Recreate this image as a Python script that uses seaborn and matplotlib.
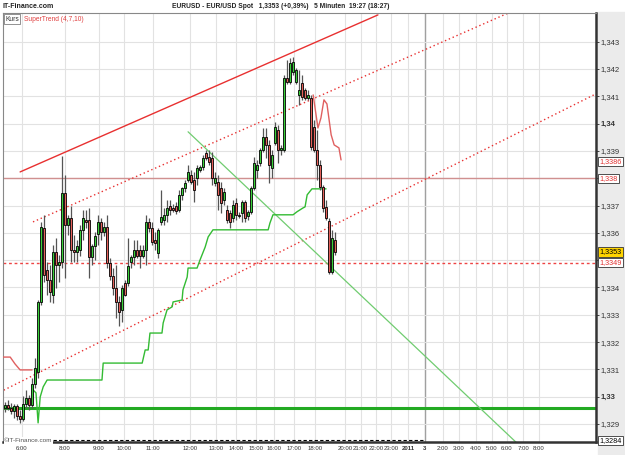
import numpy as np
import pandas as pd
import seaborn as sns
import matplotlib.pyplot as plt
import matplotlib.patches as mpatches

sns.set_style('white')
plt.rcParams['font.family'] = ['Liberation Sans', 'DejaVu Sans']

# 5-minute EUR/USD candles, one per slot
opens = [1.32959, 1.32970, 1.32959, 1.32948, 1.32966, 1.32929, 1.32918, 1.32973, 1.32995, 1.32970,
         1.33047, 1.33090, 1.33347, 1.33618, 1.33464, 1.33427, 1.33373, 1.33530, 1.33482, 1.33493,
         1.33746, 1.33629, 1.33655, 1.33537, 1.33530, 1.33537, 1.33611, 1.33647, 1.33647, 1.33512,
         1.33552, 1.33596, 1.33640, 1.33603, 1.33622, 1.33490, 1.33442, 1.33398, 1.33347, 1.33318,
         1.33416, 1.33416, 1.33493, 1.33512, 1.33537, 1.33537, 1.33515, 1.33537, 1.33640, 1.33618,
         1.33574, 1.33526, 1.33640, 1.33647, 1.33666, 1.33699, 1.33691, 1.33699, 1.33684, 1.33739,
         1.33764, 1.33794, 1.33812, 1.33794, 1.33801, 1.33830, 1.33841, 1.33893, 1.33878, 1.33874,
         1.33783, 1.33786, 1.33764, 1.33721, 1.33684, 1.33673, 1.33655, 1.33710, 1.33666, 1.33673,
         1.33713, 1.33662, 1.33677, 1.33764, 1.33830, 1.33856, 1.33904, 1.33951, 1.33922, 1.33838,
         1.33929, 1.33977, 1.33904, 1.33904, 1.34167, 1.34153, 1.34189, 1.34153, 1.34105, 1.34149,
         1.34123, 1.34094, 1.34094, 1.33988, 1.33904, 1.33849, 1.33768, 1.33695, 1.33644, 1.33457,
         1.33574]
highs = [1.32981, 1.32988, 1.32977, 1.32973, 1.32973, 1.32951, 1.33003, 1.33025, 1.33006, 1.33068,
         1.33142, 1.33354, 1.33640, 1.33666, 1.33493, 1.33482, 1.33556, 1.33581, 1.33519, 1.33882,
         1.33812, 1.33666, 1.33699, 1.33592, 1.33574, 1.33629, 1.33684, 1.33684, 1.33691, 1.33559,
         1.33603, 1.33666, 1.33655, 1.33640, 1.33666, 1.33508, 1.33471, 1.33482, 1.33369, 1.33409,
         1.33427, 1.33581, 1.33519, 1.33574, 1.33574, 1.33556, 1.33556, 1.33666, 1.33655, 1.33640,
         1.33603, 1.33618, 1.33757, 1.33691, 1.33721, 1.33721, 1.33706, 1.33713, 1.33757, 1.33768,
         1.33794, 1.33849, 1.33830, 1.33823, 1.33849, 1.33849, 1.33885, 1.33904, 1.33904, 1.33896,
         1.33823, 1.33812, 1.33786, 1.33764, 1.33702, 1.33684, 1.33721, 1.33728, 1.33677, 1.33721,
         1.33721, 1.33684, 1.33772, 1.33878, 1.33867, 1.33911, 1.33984, 1.33984, 1.33940, 1.33904,
         1.34006, 1.33995, 1.33922, 1.34178, 1.34233, 1.34241, 1.34244, 1.34204, 1.34197, 1.34178,
         1.34131, 1.34123, 1.34105, 1.34014, 1.33977, 1.33867, 1.33776, 1.33721, 1.33655, 1.33611,
         1.33603]
lows = [1.32944, 1.32951, 1.32937, 1.32922, 1.32915, 1.32904, 1.32911, 1.32959, 1.32951, 1.32959,
        1.33032, 1.33068, 1.33336, 1.33420, 1.33373, 1.33347, 1.33343, 1.33398, 1.33420, 1.33471,
        1.33435, 1.33592, 1.33493, 1.33493, 1.33493, 1.33515, 1.33574, 1.33618, 1.33435, 1.33482,
        1.33501, 1.33556, 1.33574, 1.33589, 1.33471, 1.33427, 1.33373, 1.33288, 1.33259, 1.33274,
        1.33369, 1.33406, 1.33471, 1.33482, 1.33508, 1.33471, 1.33508, 1.33482, 1.33603, 1.33556,
        1.33537, 1.33508, 1.33629, 1.33629, 1.33640, 1.33666, 1.33677, 1.33669, 1.33677, 1.33721,
        1.33750, 1.33786, 1.33779, 1.33713, 1.33776, 1.33823, 1.33830, 1.33867, 1.33849, 1.33776,
        1.33772, 1.33684, 1.33673, 1.33702, 1.33636, 1.33618, 1.33640, 1.33647, 1.33655, 1.33640,
        1.33640, 1.33647, 1.33669, 1.33757, 1.33801, 1.33845, 1.33896, 1.33874, 1.33783, 1.33801,
        1.33922, 1.33856, 1.33885, 1.33896, 1.34145, 1.34145, 1.34178, 1.34145, 1.34069, 1.34087,
        1.34087, 1.34087, 1.33904, 1.33896, 1.33794, 1.33757, 1.33677, 1.33647, 1.33449, 1.33449,
        1.33519]
closes = [1.32970, 1.32959, 1.32948, 1.32966, 1.32929, 1.32918, 1.32973, 1.32995, 1.32970, 1.33047,
          1.33105, 1.33347, 1.33622, 1.33446, 1.33427, 1.33383, 1.33530, 1.33482, 1.33493, 1.33746,
          1.33629, 1.33655, 1.33537, 1.33530, 1.33552, 1.33611, 1.33655, 1.33640, 1.33512, 1.33552,
          1.33589, 1.33640, 1.33603, 1.33622, 1.33490, 1.33442, 1.33398, 1.33347, 1.33310, 1.33398,
          1.33373, 1.33479, 1.33512, 1.33537, 1.33515, 1.33515, 1.33537, 1.33640, 1.33618, 1.33567,
          1.33563, 1.33611, 1.33658, 1.33666, 1.33691, 1.33684, 1.33684, 1.33680, 1.33739, 1.33764,
          1.33783, 1.33823, 1.33786, 1.33757, 1.33838, 1.33841, 1.33874, 1.33874, 1.33860, 1.33801,
          1.33801, 1.33739, 1.33710, 1.33750, 1.33647, 1.33640, 1.33702, 1.33666, 1.33662, 1.33713,
          1.33655, 1.33677, 1.33764, 1.33856, 1.33849, 1.33904, 1.33951, 1.33922, 1.33849, 1.33885,
          1.33988, 1.33904, 1.33911, 1.34167, 1.34153, 1.34222, 1.34226, 1.34197, 1.34123, 1.34098,
          1.34094, 1.34105, 1.33915, 1.33904, 1.33849, 1.33768, 1.33691, 1.33655, 1.33457, 1.33581,
          1.33530]

# SuperTrend (4,7,10) segments: slot position and level
st_red_a_slot = [-0.7, 1.7, 3.3, 5.0, 9.0]
st_red_a_val = [1.33145, 1.33145, 1.33120, 1.33098, 1.33098]
st_green_slot = [9.3, 10.3, 11.0, 11.7, 12.7, 14.0, 32.3, 32.7, 45.7, 46.7, 47.7, 48.3, 52.3, 52.7,
                 54.0, 55.7, 56.0, 59.0, 59.3, 60.7, 61.0, 64.0, 65.0, 66.7, 67.7, 69.3, 87.7, 88.3,
                 89.3, 96.0, 97.3, 99.3, 100.0, 100.7, 102.3, 107.0]
st_green_val = [1.33025, 1.33014, 1.32904, 1.32999, 1.33036, 1.33061, 1.33061, 1.33123, 1.33123,
                1.33171, 1.33171, 1.33233, 1.33233, 1.33270, 1.33318, 1.33329, 1.33347, 1.33354,
                1.33391, 1.33438, 1.33471, 1.33471, 1.33501, 1.33548, 1.33585, 1.33611, 1.33611,
                1.33636, 1.33666, 1.33666, 1.33677, 1.33691, 1.33695, 1.33739, 1.33761, 1.33761]
st_red_b_slot = [102.7, 104.3, 105.3, 106.3, 107.3, 108.7, 109.7, 111.3, 112.0]
st_red_b_val = [1.34105, 1.33984, 1.34021, 1.34087, 1.34072, 1.33959, 1.33922, 1.33911, 1.33867]

# trend channel and trend line endpoints (slot, price)
channel_top = ([5.0, 124.3], [1.33823, 1.34398])
channel_mid = ([9.3, 171.7], [1.33640, 1.34424])
channel_low = ([-1.7, 197.0], [1.33017, 1.34109])
down_line = ([61.0, 171.7], [1.33970, 1.32819])

# horizontal levels
level_prev = 1.3380
level_stop = 1.3349
level_support = 1.32959
level_low = 1.3284

# right axis price boxes: text, level, text colour, fill
price_boxes = [('1,3386', 1.3386, '#e03030', 'white'),
               ('1,338', 1.3380, '#e03030', 'white'),
               ('1,3353', 1.3353, 'black', '#ffd400'),
               ('1,3349', 1.3349, '#e03030', 'white'),
               ('1,3284', 1.3284, 'black', 'white')]

# time axis labels and their slots
tick_slots = [5.6, 20, 31.3, 39.7, 49.3, 61.7, 70.3, 77, 83.7, 89.7, 96.3, 103.3, 113.3, 118.5,
              123.7, 128.8, 134.3, 140, 146, 151.3, 157, 162.3, 167.3, 172.7, 178]
tick_labels = ['6:00', '8:00', '9:00', '10:00', '11:00', '12:00', '13:00', '14:00', '15:00',
               '16:00', '17:00', '18:00', '20:00', '21:00', '22:00', '23:00', '2011', '3',
               '2:00', '3:00', '4:00', '5:00', '6:00', '7:00', '8:00']
price_ticks = np.arange(1.329, 1.3435, 0.001)

df = pd.DataFrame({'open': opens, 'high': highs, 'low': lows, 'close': closes})
df['slot'] = np.arange(len(df))
df['up'] = df['close'] >= df['open']

fig = plt.figure(figsize=(6.25, 4.55), dpi=100)
fig.patch.set_facecolor('white')
fig.patches.append(mpatches.Rectangle((598 / 625, 0), 1, 1 - 12 / 455, transform=fig.transFigure,
                                      color='#ebebeb', zorder=-10))
ax = fig.add_axes([3 / 625, 1 - 442 / 455, 593 / 625, 429 / 455])
ax.set_xlim(-0.7, 197)
ax.set_ylim(1.32834, 1.34405)

# grid
for s in tick_slots:
    ax.axvline(s, color='#e2e2e2', lw=0.8, zorder=0)
ax.axvline(tick_slots[17], color='#a0a0a0', lw=1.0, zorder=0)
for p in price_ticks:
    ax.axhline(p, color='#e2e2e2', lw=0.8, zorder=0)

# horizontal levels
ax.axhline(level_prev, color='#d09090', lw=1.0, zorder=1)
ax.axhline(level_stop, color='#ee4444', lw=1.0, ls=(0, (2, 2)), zorder=1)
ax.axhline(level_support, color='#22aa22', lw=2.2, zorder=1)
ax.hlines(level_low, -0.7, tick_slots[17], color='black', lw=0.8, ls=(0, (3, 2)), zorder=1)

# channel lines
sns.lineplot(x=channel_top[0], y=channel_top[1], ax=ax, color='#e83030', lw=1.0, zorder=2)
sns.lineplot(x=channel_mid[0], y=channel_mid[1], ax=ax, color='#e83030', lw=1.0,
             linestyle=(0, (1, 2)), zorder=2)
sns.lineplot(x=channel_low[0], y=channel_low[1], ax=ax, color='#e83030', lw=1.0,
             linestyle=(0, (1, 2)), zorder=2)
sns.lineplot(x=down_line[0], y=down_line[1], ax=ax, color='#70cc70', lw=0.9, zorder=2)

# SuperTrend
sns.lineplot(x=st_red_a_slot, y=st_red_a_val, ax=ax, color='#e06060', lw=1.0, sort=False, zorder=3)
sns.lineplot(x=st_green_slot, y=st_green_val, ax=ax, color='#33bb33', lw=1.0, sort=False, zorder=3)
sns.lineplot(x=st_red_b_slot, y=st_red_b_val, ax=ax, color='#e06060', lw=1.0, sort=False, zorder=3)

# candles
ax.vlines(df['slot'], df['low'], df['high'], color='#555555', lw=0.9, zorder=4)
body = (df['close'] - df['open']).abs().clip(lower=0.00003)
bottom = df[['open', 'close']].min(axis=1)
colors = np.where(df['up'], '#3ad03a', '#e4605a')
ax.bar(df['slot'], body, bottom=bottom, width=0.8, color=colors, edgecolor='black', lw=0.6, zorder=5)

# axes styling
ax.yaxis.tick_right()
ax.set_yticks(price_ticks)
ylabels = []
for p in price_ticks:
    lab = f'{p:.3f}'.rstrip('0').replace('.', ',')
    # the boxes cover the plain labels at 1,338 and 1,335
    if round(p, 3) in (1.338, 1.335):
        lab = ''
    ylabels.append(lab)
ax.set_yticklabels(ylabels, fontsize=5.5, color='#333333')
for lab in ax.get_yticklabels():
    if 0 < len(lab.get_text()) < 5:
        lab.set_fontweight('bold')
ax.tick_params(axis='y', length=2.5, width=0.6, pad=1, right=True)
ax.set_xticks(tick_slots)
ax.set_xticklabels(tick_labels, fontsize=4.3, color='#333333')
for lab in ax.get_xticklabels():
    if lab.get_text() in ('2011', '3'):
        lab.set_fontweight('bold')
ax.tick_params(axis='x', length=0, pad=3)
ax.set_xlabel('')
ax.set_ylabel('')
for side in ['left', 'top']:
    ax.spines[side].set_color('#888888')
    ax.spines[side].set_linewidth(0.8)
for side in ['right', 'bottom']:
    ax.spines[side].set_color('#333333')
    ax.spines[side].set_linewidth(1.8)

# price boxes on the right axis
ytr = ax.get_yaxis_transform()
for txt, lvl, tc, fc in price_boxes:
    ax.text(1.006, lvl, txt, transform=ytr, fontsize=5.2, color=tc, va='center', ha='left',
            bbox=dict(boxstyle='square,pad=0.15', fc=fc, ec='#333333', lw=0.6), zorder=10,
            clip_on=False)

# legend header and watermark
ax.text(0.004, 0.994, 'Kurs', transform=ax.transAxes, fontsize=4.8, va='top', ha='left',
        color='#333333', bbox=dict(boxstyle='square,pad=0.2', fc='white', ec='#666666', lw=0.5))
ax.text(0.036, 0.994, 'SuperTrend (4,7,10)', transform=ax.transAxes, fontsize=4.8, va='top',
        ha='left', color='#e04040')
ax.text(0.002, level_low, '©IT-Finance.com', fontsize=4.6, color='#555555', va='center',
        ha='left', transform=ytr, bbox=dict(boxstyle='square,pad=0.1', fc='white', ec='none'),
        zorder=6)

# title strip
fig.text(3 / 625, 1 - 6 / 455, 'IT-Finance.com', fontsize=5.0, fontweight='bold',
         color='#222222', va='center', ha='left')
fig.text(281 / 625, 1 - 6 / 455,
         'EURUSD - EUR/USD Spot   1,3353 (+0,39%)   5 Minuten  19:27 (18:27)',
         fontsize=4.8, fontweight='bold', color='#222222', va='center', ha='center')

fig.savefig('out.png', dpi=100)
